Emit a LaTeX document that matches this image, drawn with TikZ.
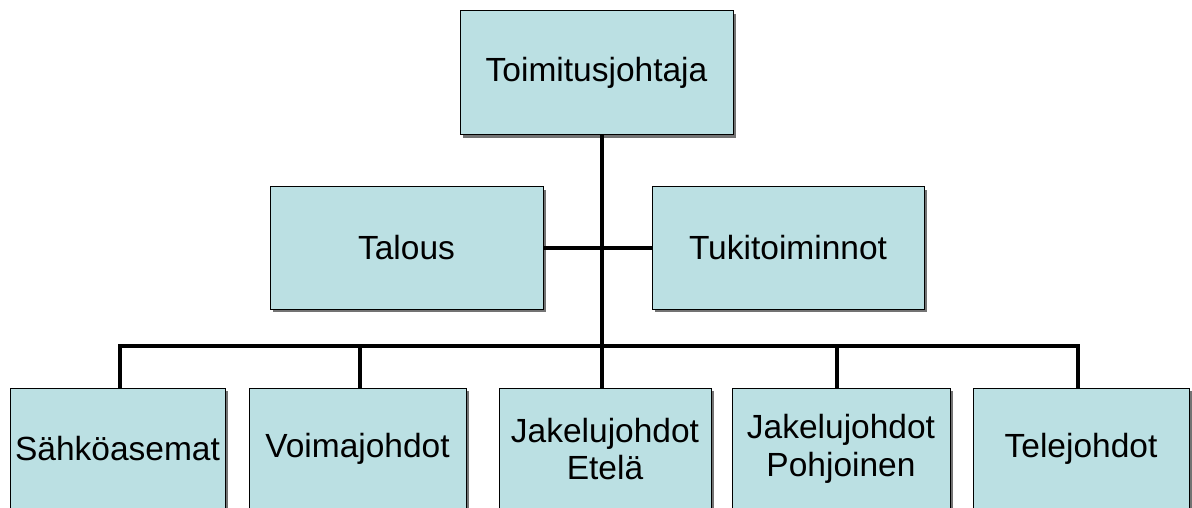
\documentclass[tikz,border=0pt]{standalone}
\usepackage{fontspec}
\setmainfont{Liberation Sans}
\usetikzlibrary{shadows}
\definecolor{boxfill}{RGB}{187,224,227}
\tikzset{
  orgbox/.style={draw=black, line width=1pt, fill=boxfill, align=center,
    inner sep=0pt, font=\fontsize{33.5}{37.5}\selectfont,
    drop shadow={shadow xshift=3pt, shadow yshift=-3pt, fill=black!55, opacity=1}},
  link/.style={line width=4pt}
}
\begin{document}
\begin{tikzpicture}[x=1pt,y=-1pt]
\clip (0,0) rectangle (1192,508);
\fill[white] (0,0) rectangle (1192,508);
\node[orgbox, minimum width=273pt, minimum height=124pt] (top) at (596.5,73) {Toimitusjohtaja};
\node[orgbox, minimum width=273pt, minimum height=122pt] (tal) at (406.5,248) {Talous};
\node[orgbox, minimum width=272pt, minimum height=122pt] (tuk) at (788,248) {Tukitoiminnot};
\node[orgbox, minimum width=215pt, minimum height=122pt] (b1) at (117.5,449) {Sähköasemat};
\node[orgbox, minimum width=217pt, minimum height=122pt] (b2) at (357.5,449) {Voimajohdot};
\node[orgbox, minimum width=212pt, minimum height=122pt] (b3) at (605,449) {Jakelujohdot\\Etelä};
\node[orgbox, minimum width=218pt, minimum height=122pt] (b4) at (841,449) {Jakelujohdot\\Pohjoinen};
\node[orgbox, minimum width=216pt, minimum height=122pt] (b5) at (1081,449) {Telejohdot};
\coordinate (trunk) at (602,135);
\coordinate (busM) at (602,346);
\draw[link] (trunk) -- (busM);
\draw[link] (tal.east) -- (tuk.west);
\coordinate (d1) at (120,346);
\coordinate (d2) at (360,346);
\coordinate (d4) at (837,346);
\coordinate (d5) at (1078,346);
\draw[link, line join=miter] (b1.north -| d1) -- (d1) -- (d5) -- (b5.north -| d5);
\draw[link] (d2) -- (b2.north -| d2);
\draw[link] (busM) -- (b3.north -| busM);
\draw[link] (d4) -- (b4.north -| d4);
\end{tikzpicture}
\end{document}
